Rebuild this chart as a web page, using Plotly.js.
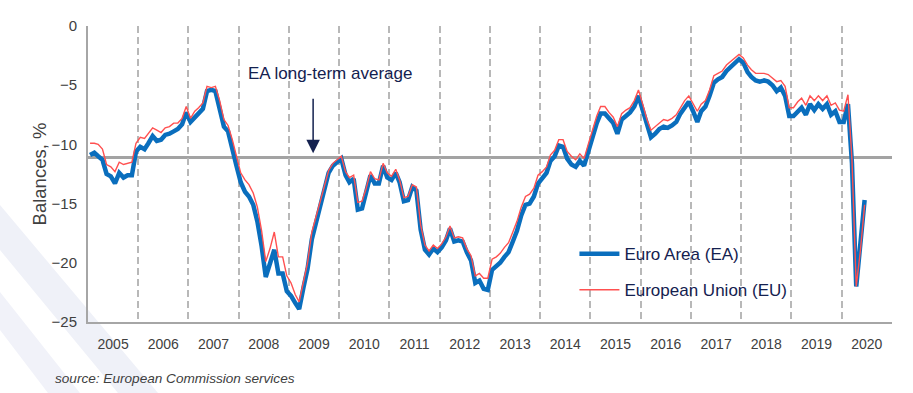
<!DOCTYPE html>
<html>
<head>
<meta charset="utf-8">
<script src="https://cdn.plot.ly/plotly-3.0.1.min.js"></script>
<style>
  html, body { margin: 0; padding: 0; background: #ffffff; }
  #chart { width: 913px; height: 393px; }
</style>
</head>
<body>
<div id="chart"></div>
<script>
// ---- data (consumer confidence balances, %, monthly from Jan 2005) ----
const startYear = 2005;
const yearLabels = ['2005','2006','2007','2008','2009','2010','2011','2012','2013','2014','2015','2016','2017','2018','2019','2020'];

const euroArea = [
  -10.9, -10.7, -11.0, -11.3, -12.5, -12.7, -13.3, -12.4, -12.8, -12.6, -12.6, -10.6, // 2005
  -10.2, -10.4,  -9.9,  -9.3,  -9.7,  -9.6,  -9.2,  -9.1,  -8.9,  -8.7,  -8.3,  -7.3, // 2006
   -8.1,  -7.7,  -7.3,  -7.0,  -5.5,  -5.4,  -5.5,  -6.9,  -8.5,  -8.9, -10.2, -11.8, // 2007
  -13.2, -14.0, -14.4, -15.1, -16.5, -18.6, -21.2, -20.0, -18.9, -20.9, -20.9, -22.4, // 2008
  -22.8, -23.4, -23.9, -22.1, -20.5, -18.0, -16.6, -15.2, -13.8, -12.4, -11.8, -11.5, // 2009
  -11.2, -12.6, -13.2, -12.9, -15.5, -15.4, -14.1, -12.6, -13.3, -13.3, -11.8, -12.8, // 2010
  -13.0, -12.4, -13.2, -14.8, -14.7, -13.6, -13.9, -17.2, -18.9, -19.3, -18.8, -19.1, // 2011
  -18.7, -18.1, -17.1, -18.2, -18.1, -18.2, -19.1, -19.8, -21.7, -21.5, -22.2, -22.3, // 2012
  -20.6, -20.3, -20.0, -19.5, -19.1, -18.2, -17.3, -16.0, -15.1, -15.0, -14.4, -13.3, // 2013
  -12.9, -12.4, -11.4, -11.0, -10.1, -10.2, -11.2, -11.7, -11.9, -11.4, -11.8, -10.6, // 2014
   -9.3,  -8.2,  -7.4,  -7.4,  -7.8,  -8.2,  -9.1,  -7.9,  -7.6,  -7.3,  -6.8,  -5.9, // 2015
   -7.1,  -8.4,  -9.4,  -9.1,  -8.7,  -8.5,  -8.6,  -8.4,  -8.1,  -7.4,  -6.8,  -6.4, // 2016
   -7.2,  -8.1,  -7.2,  -6.8,  -5.9,  -4.8,  -4.5,  -4.3,  -3.8,  -3.5,  -3.1,  -2.8, // 2017
   -3.1,  -3.9,  -4.3,  -4.6,  -4.7,  -4.6,  -4.7,  -5.0,  -5.5,  -5.2,  -5.9,  -7.6, // 2018
   -7.6,  -7.2,  -6.9,  -7.5,  -6.6,  -7.1,  -6.6,  -7.0,  -6.6,  -7.5,  -7.2,  -8.1, // 2019
   -8.1,  -6.6, -11.6, -22.0, -18.8, -14.7                                           // 2020
];

const europeanUnion = [
   -9.9,  -9.9, -10.0, -10.4, -11.7, -11.9, -12.3, -11.5, -11.7, -11.6, -11.5,  -9.9, // 2005
   -9.4,  -9.5,  -9.1,  -8.6,  -8.8,  -9.0,  -8.6,  -8.5,  -8.2,  -8.2,  -7.8,  -6.8, // 2006
   -7.8,  -7.2,  -6.9,  -6.5,  -5.1,  -5.2,  -5.1,  -6.3,  -7.9,  -8.4,  -9.6, -11.0, // 2007
  -12.4, -13.0, -13.4, -14.1, -15.3, -17.3, -19.9, -18.8, -17.4, -19.5, -19.5, -21.1, // 2008
  -21.7, -22.7, -23.3, -21.6, -20.0, -17.4, -16.1, -14.9, -13.5, -12.2, -11.6, -11.3, // 2009
  -11.0, -12.3, -12.8, -12.6, -14.9, -14.8, -13.7, -12.3, -12.9, -13.0, -11.6, -12.4, // 2010
  -12.7, -12.1, -13.0, -14.5, -14.4, -13.4, -13.6, -16.8, -18.5, -19.0, -18.5, -18.8, // 2011
  -18.4, -17.8, -16.9, -17.9, -17.8, -17.9, -18.8, -19.4, -21.1, -20.9, -21.3, -21.3, // 2012
  -19.7, -19.5, -19.2, -18.7, -18.3, -17.4, -16.5, -15.3, -14.4, -14.2, -13.7, -12.6, // 2013
  -12.3, -11.9, -10.9, -10.5,  -9.6,  -9.6, -10.6, -11.0, -11.3, -10.8, -11.2, -10.0, // 2014
   -8.8,  -7.6,  -6.8,  -6.8,  -7.3,  -7.7,  -8.5,  -7.4,  -7.1,  -6.9,  -6.3,  -5.4, // 2015
   -6.6,  -7.9,  -8.8,  -8.5,  -8.2,  -7.9,  -8.0,  -7.8,  -7.5,  -6.9,  -6.3,  -5.9, // 2016
   -6.6,  -7.2,  -6.6,  -6.3,  -5.4,  -4.2,  -4.0,  -3.8,  -3.3,  -3.0,  -2.7,  -2.4, // 2017
   -2.7,  -3.3,  -3.7,  -4.0,  -4.0,  -4.0,  -4.1,  -4.4,  -4.7,  -4.6,  -5.1,  -6.9, // 2018
   -6.9,  -6.4,  -6.1,  -6.7,  -5.9,  -6.3,  -5.9,  -6.3,  -5.9,  -6.7,  -6.5,  -7.1, // 2019
   -7.2,  -5.8, -11.3, -22.0, -19.0, -15.1                                           // 2020
];

const eaLongTermAverage = -11.1;
const seriesNames = ['Euro Area (EA)', 'European Union (EU)'];

// ---- month positions (middle of each month) ----
function monthDate(i) {
  const y = startYear + Math.floor(i / 12);
  const m = (i % 12) + 1;
  return y + '-' + String(m).padStart(2, '0') + '-16';
}
const months = euroArea.map((_, i) => monthDate(i));

const FONT = 'Liberation Sans, Arial, sans-serif';
const NAVY = '#14214f';
const GREY_TXT = '#404040';

const traces = [
  {
    x: months, y: euroArea, name: seriesNames[0], type: 'scatter', mode: 'lines',
    line: { color: '#0a6ebd', width: 4.5 }, legendgroup: 'a', hoverinfo: 'skip'
  },
  {
    x: months, y: europeanUnion, name: seriesNames[1], type: 'scatter', mode: 'lines',
    line: { color: '#ff5050', width: 1.4 }, legendgroup: 'b', hoverinfo: 'skip'
  }
];

// faint decorative background stripes (lower-left corner of the page)
const W = 913, H = 393, ML = 88, MR = 21, MT = 26, MB = 71;
const PW = W - ML - MR, PH = H - MT - MB;
function px(x) { return (x - ML) / PW; }
function py(y) { return (H - MB - y) / PH; }
function stripe(pts) {
  return 'M' + pts.map(p => px(p[0]).toFixed(4) + ',' + py(p[1]).toFixed(4)).join(' L') + ' Z';
}

const layout = {
  width: W, height: H,
  margin: { l: ML, r: MR, t: MT, b: MB },
  paper_bgcolor: '#ffffff', plot_bgcolor: 'rgba(0,0,0,0)',
  font: { family: FONT, size: 14, color: GREY_TXT },
  showlegend: true,
  legend: {
    x: 0.605, y: 0.29, xanchor: 'left', yanchor: 'top',
    bgcolor: 'rgba(0,0,0,0)', borderwidth: 0,
    font: { family: FONT, size: 17, color: NAVY },
    tracegroupgap: 11, itemwidth: 40
  },
  xaxis: {
    type: 'date',
    range: [startYear + '-01-01', (startYear + yearLabels.length) + '-01-01'],
    tickmode: 'linear', tick0: startYear + '-01-01', dtick: 'M12',
    ticklabelmode: 'period', tickformat: '%Y',
    showgrid: true, gridcolor: '#b8b8b8', gridwidth: 2, griddash: '7px,4px',
    showline: true, linecolor: '#a6a6a6', linewidth: 2,
    ticks: 'outside', ticklen: 8, tickcolor: 'rgba(0,0,0,0)',
    zeroline: false, fixedrange: true,
    tickfont: { family: FONT, size: 14, color: GREY_TXT }
  },
  yaxis: {
    range: [-25, 0], tickmode: 'linear', tick0: 0, dtick: 5,
    showgrid: false, zeroline: false,
    showline: true, linecolor: '#a6a6a6', linewidth: 2,
    ticks: 'outside', ticklen: 6, tickcolor: 'rgba(0,0,0,0)',
    tickfont: { family: FONT, size: 15, color: GREY_TXT },
    title: { text: 'Balances, %', font: { family: FONT, size: 18.5, color: GREY_TXT }, standoff: 0 },
    fixedrange: true
  },
  shapes: [
    {
      type: 'path', xref: 'paper', yref: 'paper', layer: 'below',
      path: stripe([[0, 205], [0, 250], [118, 393], [158, 393]]),
      fillcolor: '#eff1f8', line: { width: 0 }
    },
    {
      type: 'path', xref: 'paper', yref: 'paper', layer: 'below',
      path: stripe([[0, 292], [0, 330], [48, 393], [80, 393]]),
      fillcolor: '#f1f2f9', line: { width: 0 }
    },
    {
      type: 'line', xref: 'paper', yref: 'y', x0: 0, x1: 1,
      y0: eaLongTermAverage, y1: eaLongTermAverage,
      line: { color: '#a3a3a3', width: 3 }, layer: 'below'
    }
  ],
  annotations: [
    {
      xref: 'paper', yref: 'paper', x: 0.301, y: 0.838, xanchor: 'center', yanchor: 'middle',
      text: 'EA long-term average', showarrow: false,
      font: { family: FONT, size: 17, color: NAVY }
    },
    {
      xref: 'paper', yref: 'paper', x: 0.280, y: 0.570,
      text: '', showarrow: true, ax: 0, ay: -56,
      arrowhead: 2, arrowsize: 1.8, arrowwidth: 1.5, arrowcolor: NAVY
    },
    {
      xref: 'paper', yref: 'paper', x: -0.044, y: -0.19, xanchor: 'left', yanchor: 'middle',
      text: 'source: European Commission services', showarrow: false,
      font: { family: FONT, size: 13.6, color: GREY_TXT, style: 'italic' }
    }
  ]
};

Plotly.newPlot('chart', traces, layout, { staticPlot: true, displayModeBar: false });
</script>
</body>
</html>
